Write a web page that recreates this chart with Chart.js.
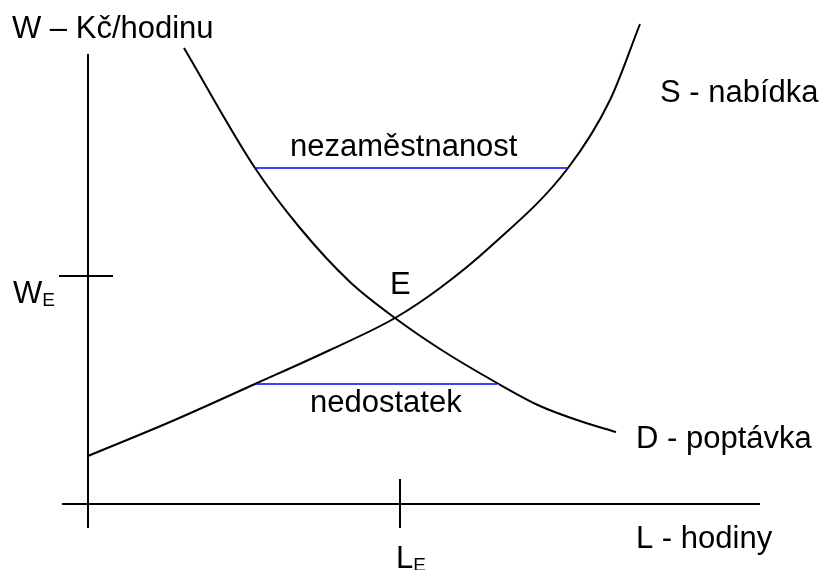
<!DOCTYPE html>
<html>
<head>
<meta charset="utf-8">
<script src="https://cdn.jsdelivr.net/npm/chart.js@4/dist/chart.umd.min.js"></script>
<style>
    body { margin: 0; background: #fff; }
    canvas { display: block; }
</style>
</head>
<body>
<canvas id="laborChart" width="825" height="570"></canvas>
<script>
// hodiny (L) a mzda (W) v libovolných jednotkách diagramu
const supplyL = [0, 8.2, 16.7, 24.2, 30.7, 35.2, 40.2, 48.0, 52.2, 55.2];
const supplyW = [4.8, 8.2, 12.0, 15.4, 18.6, 21.6, 25.7, 33.6, 40.4, 48.0];

const demandL = [9.6, 16.7, 21.2, 26.2, 30.7, 35.2, 40.9, 45.2, 49.2, 52.8];
const demandW = [45.6, 33.6, 27.6, 22.2, 18.6, 15.5, 12.1, 9.8, 8.3, 7.2];

const surplusL = [16.8, 48.0];
const surplusW = 33.6;
const shortageL = [16.8, 40.9];
const shortageW = 12.0;

const wageTick = 22.8;
const hoursTick = 31.2;

const toPoints = (xs, ys) => xs.map((x, i) => ({ x: x, y: ys[i] }));

const lineSet = (data, color, width, smooth) => ({
    data: data,
    showLine: true,
    borderColor: color,
    borderWidth: width,
    pointRadius: 0,
    fill: false,
    cubicInterpolationMode: smooth ? 'monotone' : 'default',
    tension: 0
});

// texty v diagramu: [text, index, L, W]
const labels = [
    ['W – Kč/hodinu', '', -7.6, 46.6],
    ['S - nabídka', '', 57.2, 40.2],
    ['D - poptávka', '', 54.8, 5.6],
    ['L - hodiny', '', 54.8, -4.4],
    ['nezaměstnanost', '', 20.2, 34.8],
    ['nedostatek', '', 22.2, 9.2],
    ['E', '', 30.2, 21.0],
    ['W', 'E', -7.5, 20.1],
    ['L', 'E', 30.8, -6.4]
];

const textPlugin = {
    id: 'texts',
    afterDraw(chart) {
        const c = chart.ctx;
        const sx = chart.scales.x, sy = chart.scales.y;
        c.save();
        c.fillStyle = '#000';
        c.textBaseline = 'alphabetic';
        c.textAlign = 'left';
        labels.forEach(([txt, sub, lx, ly]) => {
            const px = sx.getPixelForValue(lx);
            const py = sy.getPixelForValue(ly);
            c.font = '31px "Liberation Sans", Arial, sans-serif';
            c.fillText(txt, px, py);
            if (sub) {
                const w = c.measureText(txt).width;
                c.font = '19px "Liberation Sans", Arial, sans-serif';
                c.fillText(sub, px + w, py + 3);
            }
        });
        c.restore();
    }
};

const data = {
    datasets: [
        lineSet([{ x: 0, y: 45.0 }, { x: 0, y: -2.4 }], '#000', 2, false),
        lineSet([{ x: -2.6, y: 0 }, { x: 67.2, y: 0 }], '#000', 2, false),
        lineSet([{ x: -2.9, y: wageTick }, { x: 2.5, y: wageTick }], '#000', 2, false),
        lineSet([{ x: hoursTick, y: 2.5 }, { x: hoursTick, y: -2.4 }], '#000', 2, false),
        lineSet(surplusL.map(x => ({ x: x, y: surplusW })), '#0000ff', 1.5, false),
        lineSet(shortageL.map(x => ({ x: x, y: shortageW })), '#0000ff', 1.5, false),
        lineSet(toPoints(supplyL, supplyW), '#000', 2, true),
        lineSet(toPoints(demandL, demandW), '#000', 2, true)
    ]
};

const options = {
    responsive: false,
    animation: false,
    layout: { padding: 0 },
    plugins: {
        legend: { display: false },
        tooltip: { enabled: false }
    },
    scales: {
        x: { type: 'linear', min: -8.8, max: 73.7, display: false },
        y: { type: 'linear', min: -6.6, max: 50.4, display: false }
    }
};

new Chart(document.getElementById('laborChart').getContext('2d'), {
    type: 'scatter',
    data: data,
    options: options,
    plugins: [textPlugin]
});
</script>
</body>
</html>
